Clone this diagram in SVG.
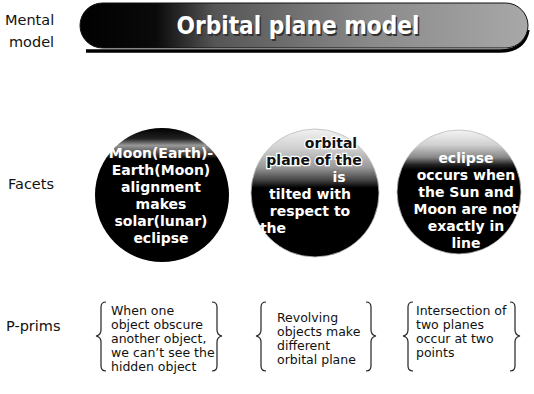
<svg xmlns="http://www.w3.org/2000/svg" width="534" height="394" viewBox="0 0 534 394">
<style>
.lbl{font-family:"DejaVu Sans","Liberation Sans",sans-serif;font-size:14.5px;fill:#111}
.ft{font-family:"DejaVu Sans","Liberation Sans",sans-serif;font-weight:bold;font-size:14px;fill:#fff;text-anchor:middle}
.dk{fill:#111;stroke:#fff;stroke-width:2.5px;paint-order:stroke}
.pp{font-family:"DejaVu Sans","Liberation Sans",sans-serif;font-size:12.5px;fill:#111}
.br{fill:none;stroke:#222;stroke-width:1.2}
.tt{font-family:"DejaVu Sans","Liberation Sans",sans-serif;font-weight:bold;font-size:24px;text-anchor:middle}
</style>
<defs>
<linearGradient id="gBan" x1="0" y1="0" x2="1" y2="0">
<stop offset="0" stop-color="#000"/><stop offset="0.17" stop-color="#0a0a0a"/><stop offset="0.3" stop-color="#555"/><stop offset="0.65" stop-color="#8a8a8a"/><stop offset="1" stop-color="#a8a8a8"/>
</linearGradient>
<linearGradient id="g1" x1="0" y1="0" x2="0" y2="1">
<stop offset="0" stop-color="#000"/><stop offset="0.08" stop-color="#222"/><stop offset="0.13" stop-color="#999"/><stop offset="0.18" stop-color="#555"/><stop offset="0.23" stop-color="#000"/><stop offset="1" stop-color="#000"/>
</linearGradient>
<linearGradient id="g2" x1="0" y1="0" x2="0" y2="1">
<stop offset="0" stop-color="#f2f2f2"/><stop offset="0.15" stop-color="#d0d0d0"/><stop offset="0.3" stop-color="#999"/><stop offset="0.4" stop-color="#444"/><stop offset="0.46" stop-color="#000"/><stop offset="1" stop-color="#000"/>
</linearGradient>
<linearGradient id="g3" x1="0" y1="0" x2="0" y2="1">
<stop offset="0" stop-color="#f4f4f4"/><stop offset="0.12" stop-color="#d0d0d0"/><stop offset="0.22" stop-color="#888"/><stop offset="0.28" stop-color="#222"/><stop offset="0.32" stop-color="#000"/><stop offset="1" stop-color="#000"/>
</linearGradient>
</defs>
<rect width="534" height="394" fill="#fff"/>

<g id="labels">
<text class="lbl" x="5" y="25">Mental</text>
<text class="lbl" x="9" y="47">model</text>
<text class="lbl" x="8" y="189">Facets</text>
<text class="lbl" x="6" y="331">P-prims</text>
</g>

<g id="mental-model">
<path d="M86,51 L500,51 Q524,51 528,30" fill="none" stroke="#000" stroke-width="3.5"/>
<rect x="80" y="3" width="448" height="45" rx="22.5" fill="url(#gBan)" stroke="#111" stroke-width="1"/>
<text class="tt" x="299.5" y="35.5" fill="#333" textLength="243" lengthAdjust="spacingAndGlyphs">Orbital plane model</text>
<text class="tt" x="298" y="34" fill="#fff" textLength="243" lengthAdjust="spacingAndGlyphs">Orbital plane model</text>
</g>

<g id="facet-1">
<circle cx="162" cy="195" r="67" fill="url(#g1)"/>
<text class="ft" x="161" y="158">Moon(Earth)-</text>
<text class="ft" x="161" y="175">Earth(Moon)</text>
<text class="ft" x="161" y="192">alignment</text>
<text class="ft" x="161" y="209">makes</text>
<text class="ft" x="161" y="226">solar(lunar)</text>
<text class="ft" x="161" y="243">eclipse</text>
</g>

<g id="facet-2">
<circle cx="315" cy="193" r="64" fill="url(#g2)" stroke="#bbb" stroke-width="0.8"/>
<text class="ft dk" x="331" y="148">orbital</text>
<text class="ft dk" x="314" y="165">plane of the</text>
<text class="ft" x="339" y="182">is</text>
<text class="ft" x="310" y="199">tilted with</text>
<text class="ft" x="310" y="216">respect to</text>
<text class="ft" x="273" y="233">the</text>
</g>

<g id="facet-3">
<circle cx="459" cy="192" r="62" fill="url(#g3)" stroke="#bbb" stroke-width="0.8"/>
<text class="ft" x="466" y="163">eclipse</text>
<text class="ft" x="466" y="180">occurs when</text>
<text class="ft" x="466" y="197">the Sun and</text>
<text class="ft" x="466" y="214">Moon are not</text>
<text class="ft" x="466" y="231">exactly in</text>
<text class="ft" x="466" y="248">line</text>
</g>

<g id="pprim-1">
<path class="br" d="M106,302 Q101,302 101,307 L101,330 Q101,335 96,336 Q101,337 101,342 L101,366 Q101,371 106,371"/>
<path class="br" d="M212,302 Q217,302 217,307 L217,330 Q217,335 222,336 Q217,337 217,342 L217,366 Q217,371 212,371"/>
<text class="pp" x="111" y="315">When one</text>
<text class="pp" x="111" y="329">object obscure</text>
<text class="pp" x="111" y="343">another object,</text>
<text class="pp" x="111" y="357">we can’t see the</text>
<text class="pp" x="111" y="371">hidden object</text>
</g>

<g id="pprim-2">
<path class="br" d="M266,302 Q261,302 261,307 L261,330 Q261,335 256,336 Q261,337 261,342 L261,366 Q261,371 266,371"/>
<path class="br" d="M366,302 Q371,302 371,307 L371,330 Q371,335 376,336 Q371,337 371,342 L371,366 Q371,371 366,371"/>
<text class="pp" x="277" y="322">Revolving</text>
<text class="pp" x="277" y="336">objects make</text>
<text class="pp" x="277" y="350">different</text>
<text class="pp" x="277" y="364">orbital plane</text>
</g>

<g id="pprim-3">
<path class="br" d="M413,302 Q408,302 408,307 L408,330 Q408,335 403,336 Q408,337 408,342 L408,366 Q408,371 413,371"/>
<path class="br" d="M510,302 Q515,302 515,307 L515,330 Q515,335 520,336 Q515,337 515,342 L515,366 Q515,371 510,371"/>
<text class="pp" x="416" y="315">Intersection of</text>
<text class="pp" x="416" y="329">two planes</text>
<text class="pp" x="416" y="343">occur at two</text>
<text class="pp" x="416" y="357">points</text>
</g>

<g id="connectors"></g>
</svg>
